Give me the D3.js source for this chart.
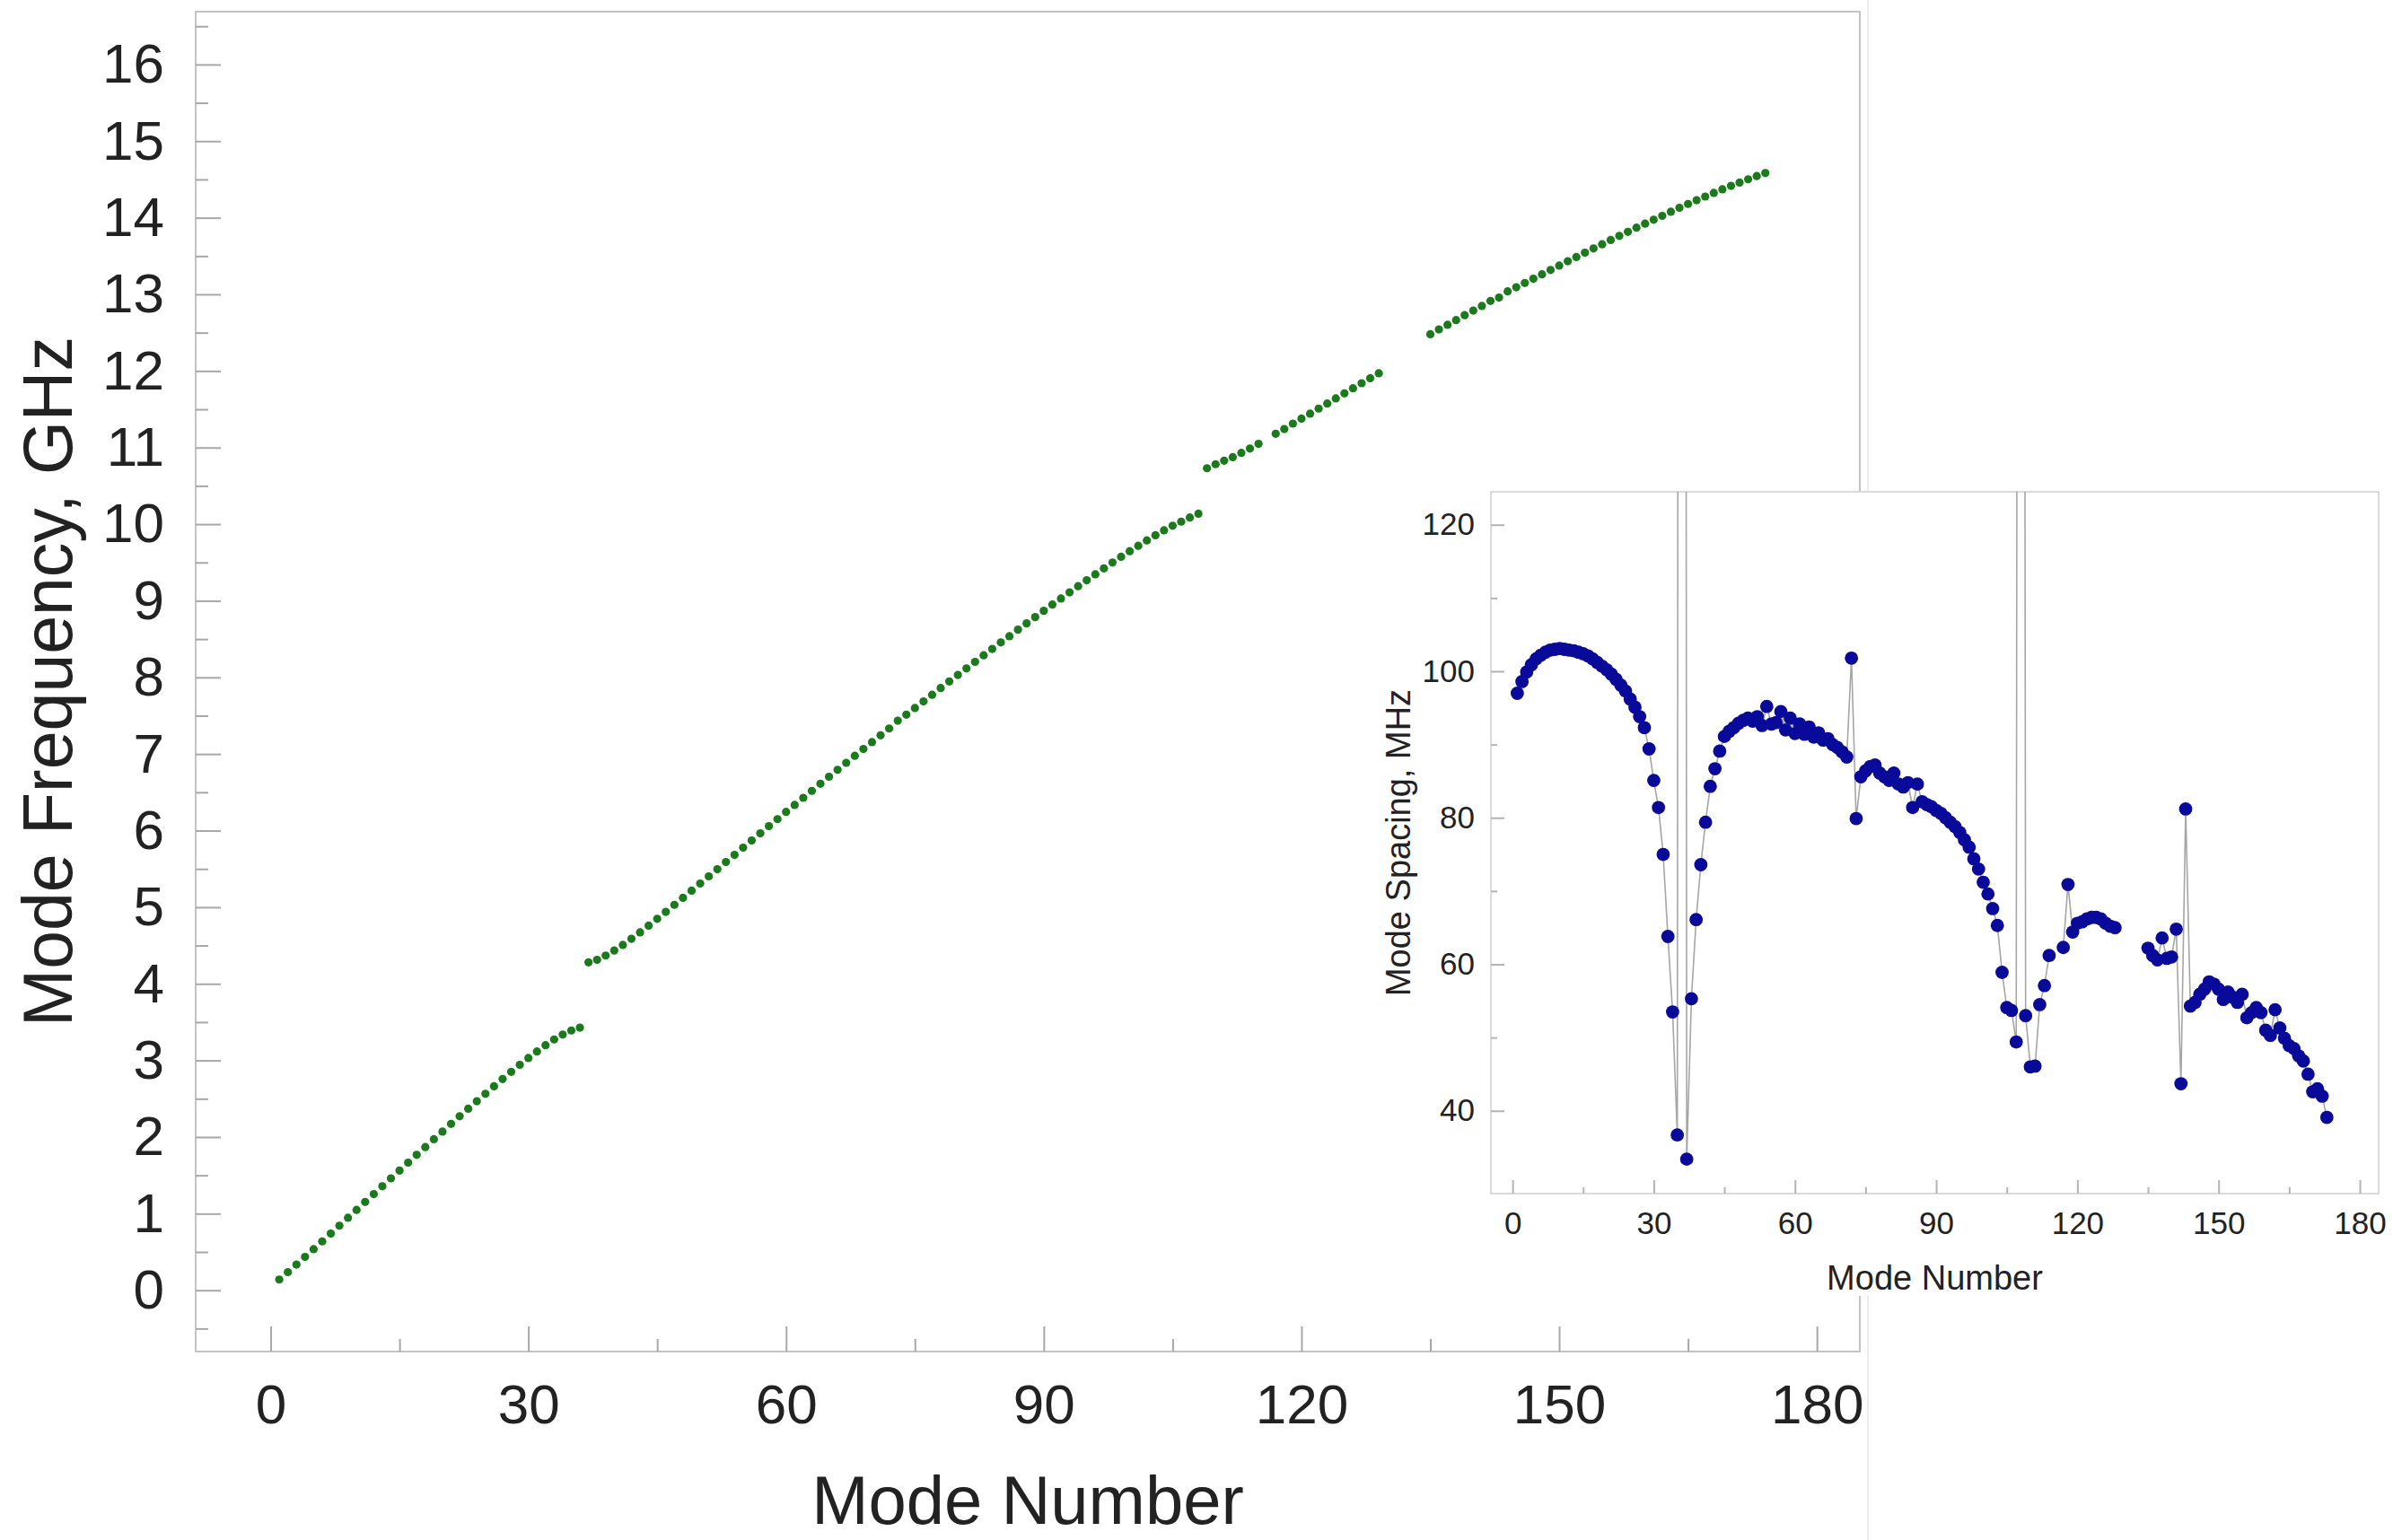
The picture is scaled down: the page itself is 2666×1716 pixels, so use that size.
<!DOCTYPE html>
<html>
<head>
<meta charset="utf-8">
<script src="https://cdn.jsdelivr.net/npm/d3@7"></script>
<style>
  html, body { margin: 0; padding: 0; background: #fff; }
  svg { display: block; }
</style>
</head>
<body>
<svg id="chart" width="2666" height="1716"></svg>
<script>
// mode frequencies in GHz, index 0 = mode 1 (null = mode not measured)
const firstMode = 1
const modeFrequency = [
  0.140, 0.237, 0.336, 0.436, 0.536, 0.638, 0.740, 0.843, 0.946, 1.049,
  1.152, 1.255, 1.358, 1.461, 1.563, 1.666, 1.768, 1.869, 1.971, 2.071,
  2.172, 2.271, 2.370, 2.468, 2.565, 2.662, 2.757, 2.851, 2.943, 3.032,
  3.117, 3.199, 3.274, 3.338, 3.391, 3.428, 4.280, 4.313, 4.369, 4.435,
  4.508, 4.588, 4.672, 4.759, 4.848, 4.939, 5.031, 5.123, 5.216, 5.309,
  5.403, 5.496, 5.590, 5.683, 5.778, 5.871, 5.964, 6.058, 6.150, 6.244,
  6.335, 6.428, 6.519, 6.612, 6.703, 6.794, 6.885, 6.976, 7.066, 7.155,
  7.244, 7.333, 7.434, 7.514, 7.600, 7.686, 7.773, 7.861, 7.947, 8.032,
  8.117, 8.203, 8.288, 8.372, 8.457, 8.538, 8.623, 8.705, 8.787, 8.869,
  8.950, 9.030, 9.110, 9.190, 9.268, 9.346, 9.423, 9.499, 9.574, 9.647,
  9.718, 9.788, 9.855, 9.920, 9.979, 10.033, 10.087, 10.137, 10.730, 10.783,
  10.829, 10.875, 10.930, 10.987, 11.048, null, 11.180, 11.242, 11.313, 11.378,
  11.443, 11.509, 11.575, 11.642, 11.708, 11.774, 11.840, 11.905, 11.970, null,
  null, null, null, null, 12.480, 12.542, 12.603, 12.664, 12.728, 12.788,
  12.849, 12.914, 12.958, 13.039, 13.093, 13.148, 13.204, 13.261, 13.318, 13.376,
  13.432, 13.487, 13.544, 13.599, 13.654, 13.710, 13.763, 13.816, 13.870, 13.923,
  13.974, 14.025, 14.079, 14.130, 14.180, 14.229, 14.277, 14.325, 14.371, 14.416,
  14.459, 14.502, 14.544, 14.583
]

// spacing to the next mode in MHz, index 0 = mode 1 (spikes at 36 and 108 run off the inset)
const modeSpacing = [
  97.0, 98.6, 99.9, 100.9, 101.7, 102.2, 102.6, 102.9, 103.0, 103.1,
  103.0, 102.9, 102.8, 102.6, 102.4, 102.1, 101.7, 101.2, 100.7, 100.2,
  99.6, 98.9, 98.1, 97.3, 96.2, 95.1, 93.8, 92.3, 89.4, 85.1,
  81.4, 75.0, 63.8, 53.5, 36.7, 852, 33.4, 55.3, 66.1, 73.6,
  79.4, 84.3, 86.7, 89.1, 91.1, 91.8, 92.3, 92.9, 93.3, 93.6,
  93.2, 93.8, 92.6, 95.2, 92.8, 93.0, 94.5, 92.0, 93.6, 91.5,
  92.8, 91.4, 92.4, 91.0, 91.6, 90.6, 90.8, 90.0, 89.6, 89.0,
  88.3, 101.8, 79.9, 85.6, 86.4, 87.0, 87.2, 86.1, 85.6, 85.1,
  86.1, 84.6, 84.2, 84.8, 81.4, 84.6, 82.2, 81.8, 81.5, 81.0,
  80.6, 80.0, 79.4, 78.8, 78.0, 77.0, 76.0, 74.4, 73.0, 71.2,
  69.6, 67.6, 65.3, 58.9, 54.1, 53.7, 49.4, 593, 53.0, 46.0,
  46.1, 54.5, 57.1, 61.2, null, null, 62.3, 70.9, 64.4, 65.6,
  65.8, 66.2, 66.4, 66.4, 66.2, 65.6, 65.2, 65.0, null, null,
  null, null, null, null, 62.2, 61.2, 60.6, 63.6, 60.8, 61.0,
  64.8, 43.7, 81.2, 54.3, 54.8, 55.9, 56.6, 57.6, 57.3, 56.6,
  55.2, 56.2, 55.5, 54.8, 55.9, 52.7, 53.4, 54.1, 53.4, 51.0,
  50.3, 53.8, 51.3, 49.9, 48.9, 48.5, 47.5, 46.8, 45.0, 42.6,
  43.0, 42.0, 39.1
]

const mainXTicks = [0, 30, 60, 90, 120, 150, 180]
const mainYTicks = d3.range(0, 17)
const insetYTicks = [40, 60, 80, 100, 120]

const font = "'Liberation Sans', Arial, sans-serif"
const svg = d3.select('#chart')

const freqData = modeFrequency
  .map((f, i) => ({ mode: firstMode + i, value: f }))
  .filter(d => d.value !== null)
const spacingData = modeSpacing.map((s, i) => ({ mode: firstMode + i, value: s }))

// helper for the tick styling shared by both panels
function styleAxis(g, size, color) {
  g.select('.domain').remove()
  g.selectAll('.tick line').attr('stroke', color).attr('stroke-width', 2)
  g.selectAll('.tick text')
    .attr('fill', '#222')
    .style('font-family', font)
    .style('font-size', size + 'px')
}

// ---------- main chart ----------
const x = d3.scaleLinear().domain([-8.73, 185]).range([218, 2072])
const y = d3.scaleLinear().domain([-0.8, 16.69]).range([1506, 13])

// faint edge line of the pasted picture
svg.append('line')
  .attr('x1', 2081).attr('x2', 2081)
  .attr('y1', 0).attr('y2', 1716)
  .attr('stroke', '#ececec')
  .attr('stroke-width', 2)

svg.append('rect')
  .attr('x', x.range()[0])
  .attr('y', y.range()[1])
  .attr('width', x.range()[1] - x.range()[0])
  .attr('height', y.range()[0] - y.range()[1])
  .attr('fill', 'none')
  .attr('stroke', '#c4c4c4')
  .attr('stroke-width', 2)

svg.append('g')
  .attr('transform', `translate(0,${y.range()[0]})`)
  .call(d3.axisBottom(x).tickValues(mainXTicks).tickSize(-28).tickPadding(36).tickFormat(d3.format('d')))
  .call(g => styleAxis(g, 62, '#a8a8a8'))

svg.append('g')
  .attr('transform', `translate(0,${y.range()[0]})`)
  .call(d3.axisBottom(x).tickValues(d3.range(15, 180, 30)).tickSize(-14).tickFormat(''))
  .call(g => styleAxis(g, 62, '#a8a8a8'))

svg.append('g')
  .attr('transform', `translate(${x.range()[0]},0)`)
  .call(d3.axisLeft(y).tickValues(mainYTicks).tickSize(-28).tickPadding(35).tickFormat(d3.format('d')))
  .call(g => styleAxis(g, 62, '#a8a8a8'))

svg.append('g')
  .attr('transform', `translate(${x.range()[0]},0)`)
  .call(d3.axisLeft(y).tickValues(d3.range(-0.5, 17, 1)).tickSize(-14).tickFormat(''))
  .call(g => styleAxis(g, 62, '#a8a8a8'))

svg.append('g')
  .selectAll('circle')
  .data(freqData)
  .join('circle')
  .attr('cx', d => x(d.mode))
  .attr('cy', d => y(d.value))
  .attr('r', 4.6)
  .attr('fill', '#1b7a1b')

svg.append('text')
  .attr('x', (x.range()[0] + x.range()[1]) / 2)
  .attr('y', 1698)
  .attr('text-anchor', 'middle')
  .attr('fill', '#222')
  .style('font-family', font)
  .style('font-size', '76px')
  .text('Mode Number')

svg.append('text')
  .attr('transform', `translate(80,${(y.range()[0] + y.range()[1]) / 2}) rotate(-90)`)
  .attr('text-anchor', 'middle')
  .attr('fill', '#222')
  .style('font-family', font)
  .style('font-size', '77px')
  .text('Mode Frequency, GHz')

// ---------- inset ----------
const ix = d3.scaleLinear().domain([-4.6, 184]).range([1661, 2650])
const iy = d3.scaleLinear().domain([28.7, 124.5]).range([1330, 548])

// white card behind the inset
svg.append('rect')
  .attr('x', 1520)
  .attr('y', iy.range()[1])
  .attr('width', 2666 - 1520)
  .attr('height', 1444 - iy.range()[1])
  .attr('fill', '#fff')

svg.append('clipPath')
  .attr('id', 'inset-clip')
  .append('rect')
  .attr('x', ix.range()[0])
  .attr('y', iy.range()[1])
  .attr('width', ix.range()[1] - ix.range()[0])
  .attr('height', iy.range()[0] - iy.range()[1])

svg.append('rect')
  .attr('x', ix.range()[0])
  .attr('y', iy.range()[1])
  .attr('width', ix.range()[1] - ix.range()[0])
  .attr('height', iy.range()[0] - iy.range()[1])
  .attr('fill', 'none')
  .attr('stroke', '#cfcfcf')
  .attr('stroke-width', 1.5)

svg.append('g')
  .attr('transform', `translate(0,${iy.range()[0]})`)
  .call(d3.axisBottom(ix).tickValues(mainXTicks).tickSize(-15).tickPadding(20).tickFormat(d3.format('d')))
  .call(g => styleAxis(g, 35, '#b4b4b4'))

svg.append('g')
  .attr('transform', `translate(0,${iy.range()[0]})`)
  .call(d3.axisBottom(ix).tickValues(d3.range(15, 180, 30)).tickSize(-7).tickFormat(''))
  .call(g => styleAxis(g, 35, '#b4b4b4'))

svg.append('g')
  .attr('transform', `translate(${ix.range()[0]},0)`)
  .call(d3.axisLeft(iy).tickValues(insetYTicks).tickSize(-15).tickPadding(18).tickFormat(d3.format('d')))
  .call(g => styleAxis(g, 35, '#b4b4b4'))

svg.append('g')
  .attr('transform', `translate(${ix.range()[0]},0)`)
  .call(d3.axisLeft(iy).tickValues([50, 70, 90, 110]).tickSize(-7).tickFormat(''))
  .call(g => styleAxis(g, 35, '#b4b4b4'))

const insetPlot = svg.append('g').attr('clip-path', 'url(#inset-clip)')

insetPlot.append('path')
  .datum(spacingData)
  .attr('fill', 'none')
  .attr('stroke', '#a6a6a6')
  .attr('stroke-width', 1.6)
  .attr('d', d3.line()
    .defined(d => d.value !== null)
    .x(d => ix(d.mode))
    .y(d => iy(d.value)))

insetPlot.append('g')
  .selectAll('circle')
  .data(spacingData.filter(d => d.value !== null))
  .join('circle')
  .attr('cx', d => ix(d.mode))
  .attr('cy', d => iy(d.value))
  .attr('r', 7.4)
  .attr('fill', '#0a0a9a')

svg.append('text')
  .attr('x', (ix.range()[0] + ix.range()[1]) / 2)
  .attr('y', 1437)
  .attr('text-anchor', 'middle')
  .attr('fill', '#222')
  .style('font-family', font)
  .style('font-size', '38px')
  .text('Mode Number')

svg.append('text')
  .attr('transform', `translate(1571,${(iy.range()[0] + iy.range()[1]) / 2}) rotate(-90)`)
  .attr('text-anchor', 'middle')
  .attr('fill', '#222')
  .style('font-family', font)
  .style('font-size', '38px')
  .text('Mode Spacing, MHz')
</script>
</body>
</html>
